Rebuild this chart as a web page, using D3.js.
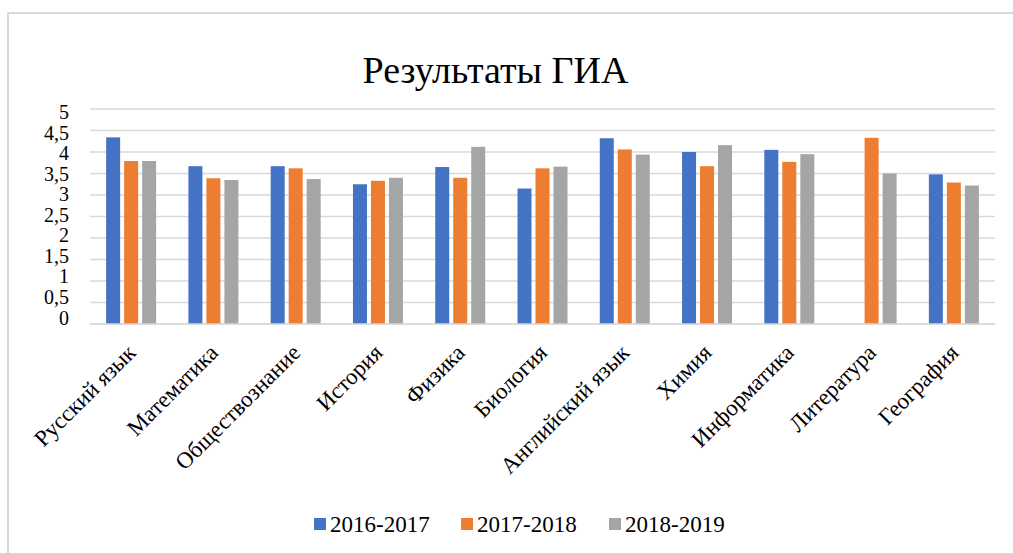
<!DOCTYPE html>
<html>
<head>
<meta charset="utf-8">
<script src="https://cdn.jsdelivr.net/npm/d3@7"></script>
<style>
  html, body { margin: 0; padding: 0; background: #fff; }
  svg { display: block; }
</style>
</head>
<body>
<svg id="chart" width="1013" height="553" font-family="'Liberation Serif', 'Times New Roman', 'DejaVu Serif', serif"></svg>
<script>
const categories = ["Русский язык", "Математика", "Обществознание", "История", "Физика", "Биология", "Английский язык", "Химия", "Информатика", "Литература", "География"];
const seriesNames = ["2016-2017", "2017-2018", "2018-2019"];
const s2016 = [4.34, 3.67, 3.67, 3.25, 3.65, 3.15, 4.32, 4.00, 4.05, null, 3.48];
const s2017 = [3.79, 3.39, 3.62, 3.33, 3.40, 3.62, 4.06, 3.67, 3.77, 4.33, 3.29];
const s2018 = [3.79, 3.35, 3.37, 3.40, 4.12, 3.66, 3.94, 4.16, 3.95, 3.50, 3.22];
const yTicks = [0, 0.5, 1, 1.5, 2, 2.5, 3, 3.5, 4, 4.5, 5];
const colors = ["#4472c4", "#ed7d31", "#a5a5a5"];

const seriesValues = [s2016, s2017, s2018];
const svg = d3.select("#chart");
const FONT = "'Liberation Serif', 'Times New Roman', 'DejaVu Serif', serif";

// outer border
svg.append("rect").attr("x", 8).attr("y", 13).attr("width", 1020).attr("height", 560)
  .attr("fill", "none").attr("stroke", "#d9d9d9").attr("stroke-width", 2);

const plot = { left: 90, right: 995, top: 109, bottom: 324 };

const x0 = d3.scaleBand().domain(categories).range([plot.left, plot.right]).paddingInner(0).paddingOuter(0);
const x1 = d3.scaleBand().domain(seriesNames).range([-25, 25]).paddingInner(4 / 18).paddingOuter(0);
const y = d3.scaleLinear().domain([0, 5]).range([plot.bottom, plot.top]);
const yLabel = d3.scaleLinear().domain([0, 5]).range([317.5, 112]);

// gridlines
svg.append("g").selectAll("line").data(yTicks).join("line")
  .attr("x1", plot.left).attr("x2", plot.right)
  .attr("y1", d => y(d)).attr("y2", d => y(d))
  .attr("stroke", "#d9d9d9").attr("stroke-width", 1.5);

// y labels
const fmt = d => String(d).replace(".", ",");
svg.append("g").selectAll("text").data(yTicks).join("text")
  .attr("x", 69).attr("y", d => yLabel(d))
  .attr("text-anchor", "end").attr("dominant-baseline", "central")
  .attr("font-family", FONT).attr("font-size", 20)
  .text(fmt);

// bars
const groups = svg.append("g").selectAll("g").data(categories).join("g")
  .attr("transform", d => `translate(${x0(d) + x0.bandwidth() / 2},0)`);
groups.selectAll("rect")
  .data((c, i) => seriesNames.map((s, j) => ({ s, j, v: seriesValues[j][i] })).filter(d => d.v != null))
  .join("rect")
  .attr("x", d => x1(d.s))
  .attr("width", x1.bandwidth())
  .attr("y", d => y(d.v))
  .attr("height", d => y(0) - y(d.v))
  .attr("fill", d => colors[d.j]);

// x baseline
svg.append("line").attr("x1", plot.left).attr("x2", plot.right)
  .attr("y1", y(0)).attr("y2", y(0)).attr("stroke", "#d9d9d9").attr("stroke-width", 1.5);

// x labels
svg.append("g").selectAll("text").data(categories).join("text")
  .attr("transform", d => `translate(${x0(d) + x0.bandwidth() / 2 + 6},${354}) rotate(-45)`)
  .attr("text-anchor", "end")
  .attr("font-family", FONT).attr("font-size", 23)
  .text(d => d);

// title
svg.append("text").attr("x", 495.5).attr("y", 83).attr("text-anchor", "middle")
  .attr("font-family", FONT).attr("font-size", 38).text("Результаты ГИА");

// legend
const legendX = d3.scaleOrdinal().domain(seriesNames).range([330, 477, 625]);
const lg = svg.append("g").selectAll("g").data(seriesNames).join("g")
  .attr("transform", d => `translate(${legendX(d)},532)`);
lg.append("rect").attr("x", -16).attr("y", -14).attr("width", 12).attr("height", 12)
  .attr("fill", (d, i) => colors[i]);
lg.append("text").attr("x", 0).attr("y", 0)
  .attr("font-family", FONT).attr("font-size", 23).text(d => d);
</script>
</body>
</html>
